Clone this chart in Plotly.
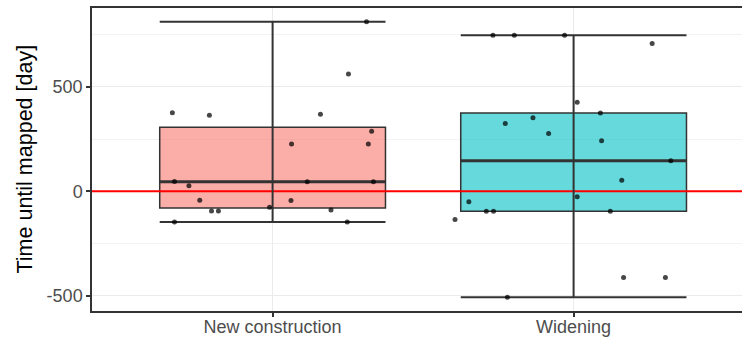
import numpy as np
import plotly.graph_objects as go

# ---------------- data ----------------
categories = ["New construction", "Widening"]

new_construction_days = [812, 562, 376, 364, 369, 287, 226, 226, 46, 26, 45, 45,
                         -43, -45, -95, -95, -77, -90, -148, -148]
new_construction_jitter = [0.312, 0.252, -0.333, -0.210, 0.159, 0.329, 0.063, 0.318,
                           -0.326, -0.278, 0.115, 0.335, -0.242, 0.061, -0.203, -0.180,
                           -0.010, 0.194, -0.326, 0.248]

widening_days = [747, 747, 747, 708, 426, 375, 352, 324, 277, 242, 146, 53,
                 -26, -51, -96, -96, -96, -135, -413, -413, -508]
widening_jitter = [-0.268, -0.197, -0.030, 0.261, 0.012, 0.089, -0.135, -0.227,
                   -0.083, 0.093, 0.323, 0.160, 0.012, -0.348, -0.290, -0.266,
                   0.122, -0.394, 0.166, 0.305, -0.220]

y_ticks = [-500, 0, 500]
y_minor_ticks = [-250, 250, 750]
baseline = 0

series_values = [new_construction_days, widening_days]
series_jitter = [new_construction_jitter, widening_jitter]
fill_colors = ["rgba(248,118,109,0.6)", "rgba(0,191,196,0.6)"]

# ---------------- layout constants ----------------
W, H = 742, 338
ML, MR, MT, MB = 92, 0, 8, 27
box_w = 0.75
x_lo = 0.4
x_hi = x_lo + (W - ML - MR) / 301.0
y_range = [-574, 878]
line_col = "#333333"

fig = go.Figure()

# reference line at zero (beneath boxes)
fig.add_trace(go.Scatter(x=[x_lo - 1, x_hi + 1], y=[baseline, baseline], mode="lines",
                         line=dict(color="#FF0000", width=2), hoverinfo="skip",
                         showlegend=False))

for i, (cat, vals, jit, fc) in enumerate(zip(categories, series_values, series_jitter, fill_colors)):
    c = i + 1
    v = np.array(vals, dtype=float)
    q1, med, q3 = np.percentile(v, [25, 50, 75])
    iqr = q3 - q1
    lw = v[v >= q1 - 1.5 * iqr].min()
    uw = v[v <= q3 + 1.5 * iqr].max()
    h = box_w / 2
    # error-bar whiskers
    fig.add_trace(go.Scatter(
        x=[c - h, c + h, None, c, c, None, c - h, c + h],
        y=[uw, uw, None, uw, lw, None, lw, lw],
        mode="lines", line=dict(color=line_col, width=2),
        hoverinfo="skip", showlegend=False))
    # box
    fig.add_trace(go.Box(
        x=[c], q1=[q1], median=[med], q3=[q3], lowerfence=[q1], upperfence=[q3],
        width=box_w, fillcolor=fc, line=dict(color=line_col, width=1.5),
        boxpoints=False, showlegend=False, hoverinfo="skip"))
    # thicker median
    fig.add_trace(go.Scatter(x=[c - h, c + h], y=[med, med], mode="lines",
                             line=dict(color=line_col, width=3),
                             hoverinfo="skip", showlegend=False))
    # jittered points
    fig.add_trace(go.Scatter(
        x=[c + j for j in jit], y=vals, mode="markers",
        marker=dict(color="rgba(0,0,0,0.72)", size=5, line=dict(width=0)),
        showlegend=False))

fig.add_annotation(text="Time until mapped [day]", xref="paper", yref="paper",
                   x=(24 - ML) / (W - ML - MR), y=0.5, textangle=-90,
                   showarrow=False, xanchor="center", yanchor="middle",
                   font=dict(size=21.5, color="#000000",
                             family="Liberation Sans, Arial, sans-serif"))

fig.update_layout(
    width=W, height=H,
    margin=dict(l=ML, r=MR, t=MT, b=MB, pad=0, autoexpand=False),
    paper_bgcolor="white", plot_bgcolor="white",
    font=dict(family="Liberation Sans, Arial, sans-serif"),
    xaxis=dict(
        automargin=False,
        range=[x_lo, x_hi], tickvals=[1, 2], ticktext=categories,
        showgrid=True, gridcolor="#EBEBEB", gridwidth=1.2,
        zeroline=False, showline=True, linecolor=line_col, linewidth=1.5, mirror=True,
        ticks="outside", ticklen=4, tickcolor=line_col, tickwidth=1.5,
        ticklabelstandoff=-5,
        tickfont=dict(size=18, color="#4D4D4D"),
    ),
    yaxis=dict(
        automargin=False,
        range=y_range, tickvals=y_ticks, ticktext=[str(t) for t in y_ticks],
        showgrid=True, gridcolor="#EBEBEB", gridwidth=1.2,
        minor=dict(tickvals=y_minor_ticks, showgrid=True, gridcolor="#F3F3F3",
                   gridwidth=1, ticks=""),
        zeroline=False, showline=True, linecolor=line_col, linewidth=1.5,
        ticks="outside", ticklen=4, tickcolor=line_col, tickwidth=1.5,
        tickfont=dict(size=18, color="#4D4D4D"),
    ),
)

fig.write_html("out.html")
